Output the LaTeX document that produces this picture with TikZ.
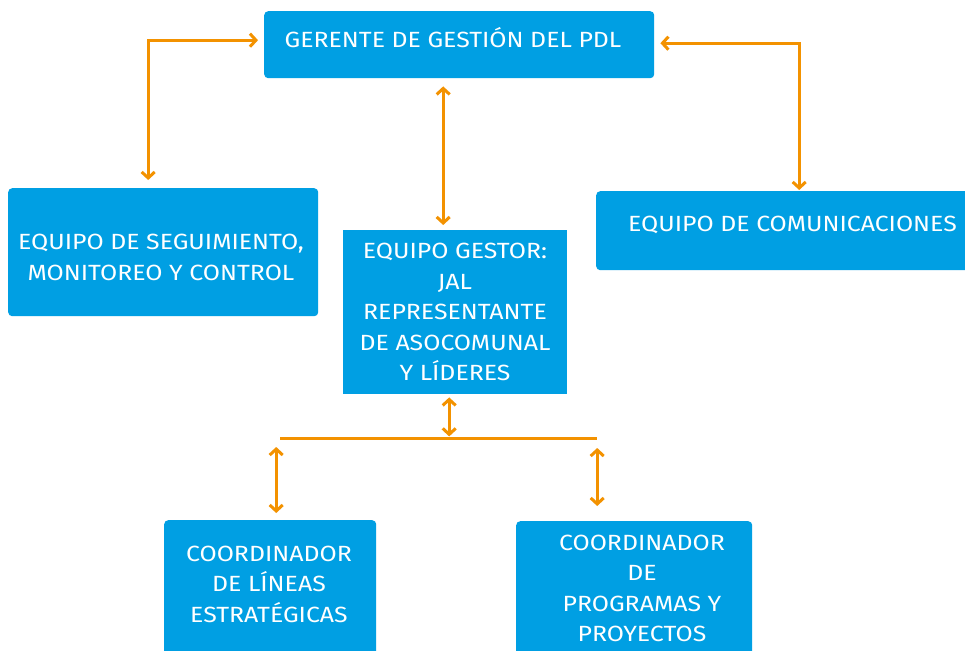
\documentclass[tikz,border=0pt]{standalone}
\usepackage{fontspec}
\setmainfont[FakeStretch=1.13]{Fira Sans}
\usetikzlibrary{arrows.meta,calc}
\definecolor{boxblue}{HTML}{009FE3}
\definecolor{arrorange}{HTML}{F39200}
\begin{document}
\begin{tikzpicture}[x=1pt,y=-1pt,
  box/.style={fill=boxblue, draw=none, rounded corners=4pt, inner sep=0pt, anchor=north west},
  sqbox/.style={fill=boxblue, draw=none, inner sep=0pt, anchor=north west},
  txt/.style={text=white, font=\fontsize{22}{30.5}\selectfont, align=center, inner sep=0pt},
  conn/.style={draw=arrorange, line width=3pt, {Straight Barb[length=6pt,width=13pt]}-{Straight Barb[length=6pt,width=13pt]}},
  plainline/.style={draw=arrorange, line width=3pt}]
\useasboundingbox (0,0) rectangle (965,650);
\clip (0,0) rectangle (965,650);
\fill[white] (0,0) rectangle (965,650);
% boxes
\node[box, minimum width=390pt, minimum height=67pt] (ger) at (264,11) {};
\node[box, minimum width=310pt, minimum height=128pt] (seg) at (8,188) {};
\node[sqbox, minimum width=224pt, minimum height=164pt] (gestor) at (343,230) {};
\node[box, minimum width=379pt, minimum height=79pt] (com) at (596,191) {};
\node[box, minimum width=212pt, minimum height=140pt] (lin) at (164,520) {};
\node[box, minimum width=236pt, minimum height=140pt] (prog) at (516,521) {};
% texts
\node[txt] (gert) at (453,38) {GERENTE DE GESTIÓN DEL PDL};
\node[txt] (segt) at (161,257.5) {EQUIPO DE SEGUIMIENTO,\\MONITOREO Y CONTROL};
\node[txt] (gestort) at (455,312) {EQUIPO GESTOR:\\JAL\\REPRESENTANTE\\DE ASOCOMUNAL\\Y LÍDERES};
\node[txt] (comt) at (792.5,225) {EQUIPO DE COMUNICACIONES};
\node[txt] (lint) at (269,584) {COORDINADOR\\DE LÍNEAS\\ESTRATÉGICAS};
\node[txt] (progt) at (642,588.5) {COORDINADOR\\DE\\PROGRAMAS Y\\PROYECTOS};
% connectors
\draw[conn] ([xshift=-6pt,yshift=4.5pt]ger.west) -| ([xshift=-15pt,yshift=8pt]seg.north);
\draw[conn] ([xshift=6pt,yshift=1.5pt]ger.east) -| ([xshift=13.5pt,yshift=1pt]com.north);
\draw[conn] ([xshift=-16pt,yshift=-8pt]ger.south) -- ([xshift=-12pt,yshift=5pt]gestor.north);
\coordinate (hl) at (280,438);
\coordinate (hr) at (597,438);
\draw[plainline] (hl) -- (hr);
\draw[conn] ([xshift=-6pt,yshift=-3pt]gestor.south) -- ([xshift=-6pt,yshift=-42pt]gestor.south);
\draw[conn] ([xshift=6pt,yshift=7pt]lin.north) -- ([xshift=6pt,yshift=73pt]lin.north);
\draw[conn] ([xshift=-37pt,yshift=15pt]prog.north) -- ([xshift=-37pt,yshift=73pt]prog.north);
\end{tikzpicture}
\end{document}
